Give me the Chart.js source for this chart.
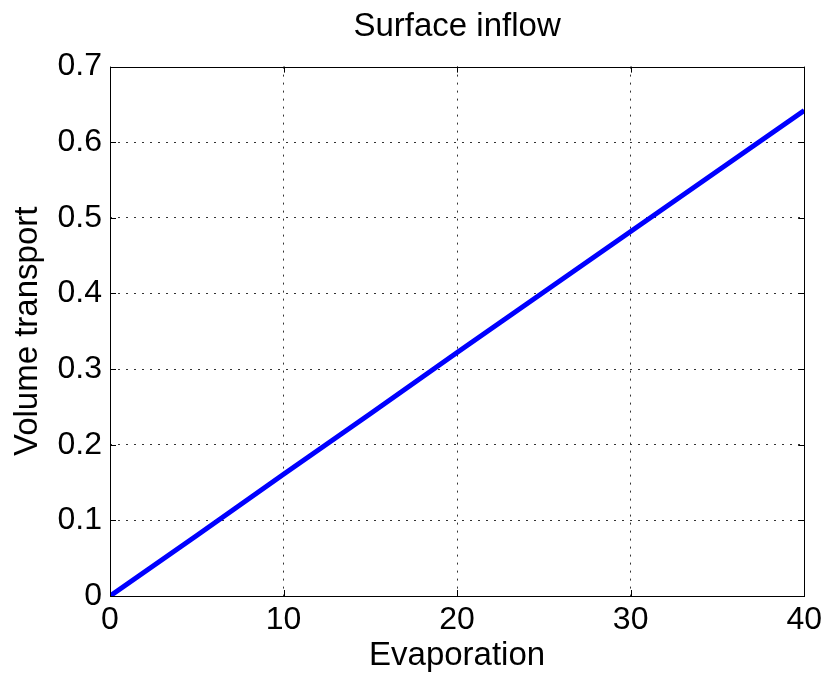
<!DOCTYPE html>
<html>
<head>
<meta charset="utf-8">
<title>Surface inflow</title>
<script src="https://cdn.jsdelivr.net/npm/chart.js@4"></script>
<style>
    html, body { margin: 0; padding: 0; background: #fff; }
    #wrap { width: 827px; height: 676px; }
</style>
</head>
<body>
<div id="wrap"><canvas id="inflow-chart"></canvas></div>
<script>
// Dados da curva
const evaporation = [0, 5, 10, 15, 20, 25, 30, 35, 40];
const volumeTransport = [0, 0.080, 0.161, 0.241, 0.322, 0.402, 0.482, 0.562, 0.642];
const xTicks = [0, 10, 20, 30, 40];
const yTicks = [0, 0.1, 0.2, 0.3, 0.4, 0.5, 0.6, 0.7];

const fonte = 'Liberation Sans, Arial, Helvetica, sans-serif';

// Grade pontilhada só nas linhas internas (as bordas ficam com a caixa)
function corGrade(c, total) {
    return (c.index === 0 || c.index === total - 1) ? 'rgba(0,0,0,0)' : '#333';
}

// Caixa em volta do gráfico e marcas de escala para dentro
const caixaPlugin = {
    id: 'caixa',
    afterDatasetsDraw(chart) {
        const { ctx, chartArea: a, scales } = chart;
        const len = 6;
        ctx.save();
        ctx.strokeStyle = '#000';
        ctx.lineWidth = 1;
        ctx.beginPath();
        xTicks.forEach(v => {
            const px = Math.round(scales.x.getPixelForValue(v)) + 0.5;
            ctx.moveTo(px, a.bottom); ctx.lineTo(px, a.bottom - len);
            ctx.moveTo(px, a.top); ctx.lineTo(px, a.top + len);
        });
        yTicks.forEach(v => {
            const py = Math.round(scales.y.getPixelForValue(v)) + 0.5;
            ctx.moveTo(a.left, py); ctx.lineTo(a.left + len, py);
            ctx.moveTo(a.right, py); ctx.lineTo(a.right - len, py);
        });
        ctx.stroke();
        ctx.strokeRect(Math.round(a.left) + 0.5, Math.round(a.top) + 0.5,
            Math.round(a.right - a.left), Math.round(a.bottom - a.top));
        ctx.restore();
    }
};

let chart;
function initializeChart() {
    const ctx = document.getElementById('inflow-chart').getContext('2d');
    chart = new Chart(ctx, {
        type: 'line',
        data: {
            datasets: [{
                data: evaporation.map((x, i) => ({ x: x, y: volumeTransport[i] })),
                borderColor: '#0000ff',
                borderWidth: 5,
                pointRadius: 0,
                tension: 0
            }]
        },
        options: {
            responsive: true,
            maintainAspectRatio: false,
            animation: false,
            layout: { padding: { right: 20 } },
            plugins: {
                legend: { display: false },
                tooltip: { enabled: false },
                title: {
                    display: true,
                    fullSize: false,
                    text: 'Surface inflow',
                    color: '#000',
                    font: { family: fonte, size: 33, weight: 'normal' },
                    padding: { top: 7, bottom: 20 }
                }
            },
            scales: {
                x: {
                    type: 'linear',
                    min: 0,
                    max: 40,
                    afterFit: s => { s.height = 80; },
                    afterBuildTicks: s => { s.ticks = xTicks.map(v => ({ value: v })); },
                    ticks: {
                        color: '#000',
                        padding: 5,
                        maxRotation: 0,
                        font: { family: fonte, size: 32 }
                    },
                    grid: { color: c => corGrade(c, xTicks.length), drawTicks: false },
                    border: { display: false, dash: [2, 6] },
                    title: {
                        display: true,
                        text: 'Evaporation',
                        color: '#000',
                        font: { family: fonte, size: 33 },
                        padding: { top: 0, bottom: 0 }
                    }
                },
                y: {
                    type: 'linear',
                    min: 0,
                    max: 0.7,
                    afterFit: s => { s.width = 110; },
                    afterBuildTicks: s => { s.ticks = yTicks.map(v => ({ value: v })); },
                    ticks: {
                        color: '#000',
                        padding: 8,
                        font: { family: fonte, size: 32 },
                        callback: v => (v === 0 ? '0' : v.toFixed(1))
                    },
                    grid: { color: c => corGrade(c, yTicks.length), drawTicks: false },
                    border: { display: false, dash: [2, 6] },
                    title: {
                        display: true,
                        text: 'Volume transport',
                        color: '#000',
                        font: { family: fonte, size: 33 },
                        padding: { top: 8, bottom: 0 }
                    }
                }
            }
        },
        plugins: [caixaPlugin]
    });
}

initializeChart();
</script>
</body>
</html>
